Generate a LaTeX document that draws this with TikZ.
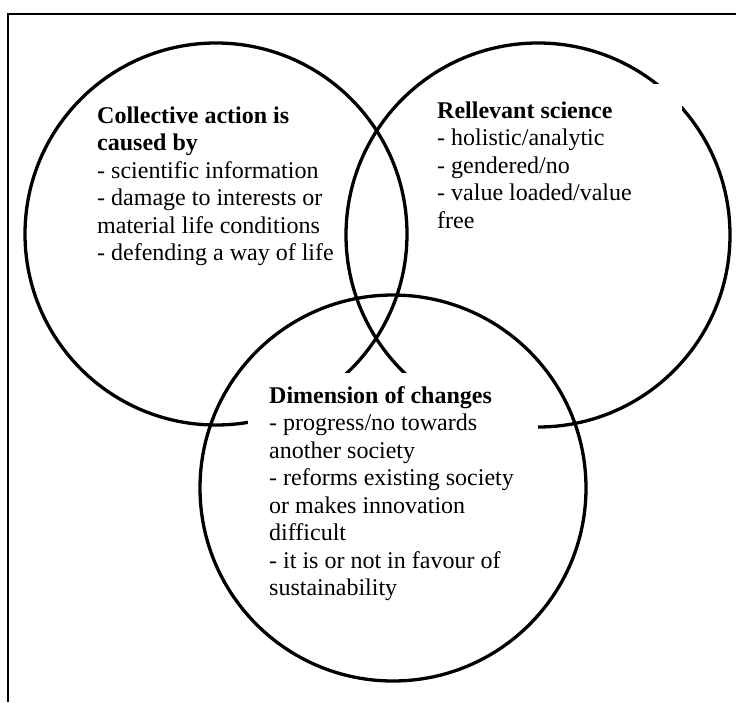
\documentclass[tikz,border=0pt]{standalone}
\usepackage{fontspec}
\setmainfont{Liberation Serif}
\tikzset{
  venn/.style={circle, draw=black, line width=3.3pt, inner sep=0pt, minimum size=#1},
  mask/.style={fill=white, draw=none, inner sep=0pt, anchor=north west},
  label/.style={anchor=base west, inner sep=0pt, font=\fontsize{24}{27.5}\selectfont},
  frame/.style={draw=black, line width=1.4pt}
}
\newcommand{\vennbox}[2]{\parbox[t]{#1}{\raggedright\fontsize{24}{27.5}\selectfont #2}}
\begin{document}
\begin{tikzpicture}[x=1pt,y=-1pt]
\useasboundingbox (0,0) rectangle (736,702);
% frame (top and left sides)
\draw[frame] (8,702) -- (8,14) -- (736,14);
% circles
\node[venn=382pt] (L) at (216,234) {};
\node[venn=384pt] (R) at (538,235) {};
% white text boxes that hide parts of the circles
\node[mask, minimum width=254pt, minimum height=160pt] (maskR) at (428,84) {};
\node[mask, minimum width=290pt, minimum height=232pt] (maskB) at (248,373) {};
\node[venn=386pt] (B) at (393,488) {};
% texts
\node[label] (tL) at (97,123) {\vennbox{260pt}{\textbf{Collective action is}\\ \textbf{caused by}\\ - scientific information\\ - damage to interests or\\ material life conditions\\ - defending a way of life}};
\node[label] (tR) at (437,118) {\vennbox{240pt}{\textbf{Rellevant science}\\ - holistic/analytic\\ - gendered/no\\ - value loaded/value\\ free}};
\node[label] (tB) at (269,403) {\vennbox{265pt}{\textbf{Dimension of changes}\\ - progress/no towards\\ another society\\ - reforms existing society\\ or makes innovation\\ difficult\\ - it is or not in favour of\\ sustainability}};
\end{tikzpicture}
\end{document}
